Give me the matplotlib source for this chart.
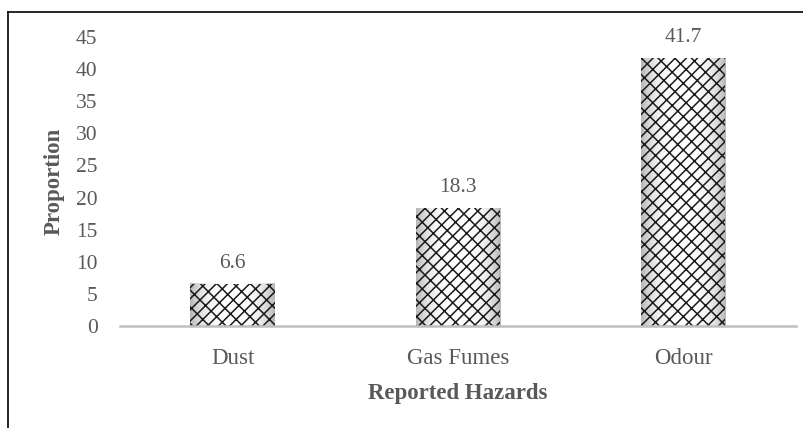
import numpy as np
import matplotlib.pyplot as plt
from matplotlib.lines import Line2D

# Reported hazards and their proportions
hazards = ["Dust", "Gas Fumes", "Odour"]
proportions = [6.6, 18.3, 41.7]
y_ticks = [0, 5, 10, 15, 20, 25, 30, 35, 40, 45]

plt.rcParams['font.family'] = ['Liberation Serif', 'DejaVu Serif']
plt.rcParams['hatch.linewidth'] = 1.1
text_gray = "#595959"


def main():
    fig = plt.figure(figsize=(8.04, 4.28), dpi=100)
    ax = fig.add_axes([0.149, 0.2383, 0.841, 0.6753])

    x = np.arange(len(hazards))
    width = 0.373

    # soft horizontal shading inside each bar
    shade = 1 - 0.28 * np.abs(np.linspace(-1, 1, 64)) ** 3
    shade = np.tile(shade, (2, 1))
    for xi, val in zip(x, proportions):
        ax.imshow(shade, extent=[xi - width / 2, xi + width / 2, 0, val],
                  aspect='auto', cmap='gray', vmin=0, vmax=1,
                  interpolation='bilinear', zorder=1)

    ax.bar(x, proportions, width=width, facecolor='none',
           edgecolor='#1a1a1a', linewidth=0, hatch='///\\\\', zorder=2)

    for xi, val in zip(x, proportions):
        ax.annotate(f"{val}", (xi, val), xytext=(0, 8),
                    textcoords='offset points', ha='center', va='bottom',
                    fontsize=15.5, color=text_gray)

    ax.set_xlim(-0.5, len(hazards) - 0.5)
    ax.set_ylim(0, 45)
    ax.set_yticks(y_ticks)
    ax.set_xticks(x)
    ax.set_xticklabels(hazards)
    ax.tick_params(length=0, labelsize=15.5, labelcolor=text_gray)
    ax.tick_params(axis='y', pad=16)
    ax.tick_params(axis='x', labelsize=16.5, pad=16)

    for side in ['top', 'right', 'left']:
        ax.spines[side].set_visible(False)
    ax.spines['bottom'].set_color('#bfbfbf')
    ax.spines['bottom'].set_linewidth(1.8)

    ax.set_xlabel("Reported Hazards", fontsize=16.5, fontweight='bold',
                  color=text_gray, labelpad=10)
    ax.set_ylabel("Proportion", fontsize=16.5, fontweight='bold',
                  color=text_gray, labelpad=8)

    # outer frame on the left and top edges
    fig.add_artist(Line2D([0.0105, 0.0105], [0, 0.972], color='black',
                          linewidth=1.2, transform=fig.transFigure))
    fig.add_artist(Line2D([0.0105, 1], [0.972, 0.972], color='black',
                          linewidth=1.2, transform=fig.transFigure))

    fig.savefig("out.png", dpi=100)


if __name__ == "__main__":
    main()
